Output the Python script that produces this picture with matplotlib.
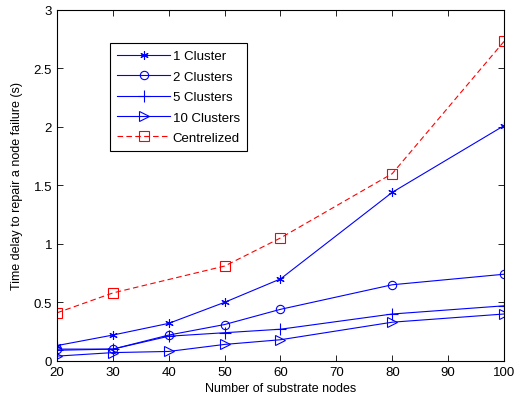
import matplotlib.pyplot as plt

plt.rcParams['font.family'] = ['Liberation Sans', 'DejaVu Sans']

nodes = [20, 30, 40, 50, 60, 80, 100]
one_cluster = [0.13, 0.22, 0.32, 0.50, 0.70, 1.44, 2.01]
two_clusters = [0.10, 0.10, 0.22, 0.31, 0.44, 0.65, 0.74]
five_clusters = [0.09, 0.10, 0.21, 0.24, 0.27, 0.40, 0.47]
ten_clusters = [0.04, 0.07, 0.08, 0.14, 0.18, 0.33, 0.40]
central_nodes = [20, 30, 50, 60, 80, 100]
centralized = [0.41, 0.58, 0.81, 1.05, 1.60, 2.73]

fig = plt.figure(figsize=(5.18, 4.02), dpi=100)
ax = fig.add_axes([0.11, 0.1, 0.863, 0.873])

ax.plot(nodes, one_cluster, '-', marker=(6, 2, 0), color='blue', lw=0.8, ms=6, mew=0.8, label='1 Cluster')
ax.plot(nodes, two_clusters, '-o', color='blue', lw=0.8, ms=6, mfc='none', mew=0.8, label='2 Clusters')
ax.plot(nodes, five_clusters, '-+', color='blue', lw=0.8, ms=9, mew=0.8, label='5 Clusters')
ax.plot(nodes, ten_clusters, '->', color='blue', lw=0.8, ms=7, mfc='none', mew=0.8, label='10 Clusters')
ax.plot(central_nodes, centralized, '--s', color='red', lw=0.8, ms=7, mfc='none', mew=0.8,
        dashes=(5, 3), label='Centrelized')

ax.set_xlim(20, 100)
ax.set_ylim(0, 3)
ax.set_xticks(range(20, 101, 10))
ax.set_yticks([0, 0.5, 1, 1.5, 2, 2.5, 3])
ax.set_yticklabels(['0', '0.5', '1', '1.5', '2', '2.5', '3'])
ax.tick_params(direction='in', top=True, right=True, labelsize=9.5, length=4, width=0.6)
for s in ax.spines.values():
    s.set_linewidth(0.8)
ax.set_xlabel('Number of substrate nodes', fontsize=9, labelpad=3)
ax.set_ylabel('Time delay to repair a node failure (s)', fontsize=9, labelpad=8)

leg = ax.legend(loc='upper left', bbox_to_anchor=(0.119, 0.906), borderaxespad=0, fontsize=9.5,
                fancybox=False, framealpha=1, edgecolor='black', handlelength=4.0,
                labelspacing=0.62, borderpad=0.55, handletextpad=0.2)
leg.get_frame().set_linewidth(0.8)

fig.savefig('out.png', dpi=100)
